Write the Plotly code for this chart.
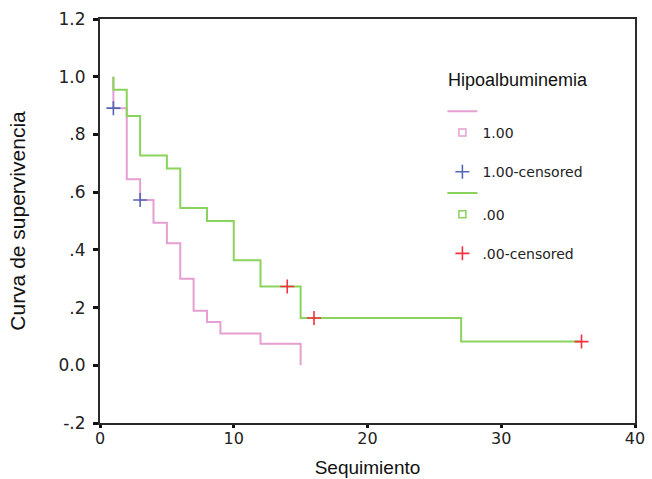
import plotly.graph_objects as go

# Kaplan-Meier data
pink_t = [1, 1, 2, 3, 4, 5, 6, 7, 8, 9, 12, 15]
pink_s = [1.0, 0.891, 0.645, 0.573, 0.494, 0.4225, 0.30, 0.189, 0.150, 0.110, 0.075, 0.0]
pink_cens_t = [1, 3]
pink_cens_s = [0.891, 0.573]

green_t = [1, 1, 2, 3, 5, 6, 8, 10, 12, 15, 27, 36]
green_s = [1.0, 0.955, 0.864, 0.727, 0.682, 0.545, 0.500, 0.364, 0.273, 0.164, 0.082, 0.082]
green_cens_t = [14, 16, 36]
green_cens_s = [0.273, 0.164, 0.082]

y_ticks = [-0.2, 0.0, 0.2, 0.4, 0.6, 0.8, 1.0, 1.2]
y_labels = ["-.2", "0.0", ".2", ".4", ".6", ".8", "1.0", "1.2"]
x_ticks = [0, 10, 20, 30, 40]

PINK = "#e59fd0"
GREEN = "#8ad35c"
BLUE = "#5565b5"
RED = "#f5303f"

fig = go.Figure()

fig.add_trace(go.Scatter(x=pink_t, y=pink_s, mode="lines", line=dict(color=PINK, width=2, shape="hv"),
                         name="", legendgroup="g1"))
fig.add_trace(go.Scatter(x=[None], y=[None], mode="markers", name="1.00", legendgroup="g1",
                         marker=dict(symbol="square-open", size=7, color=PINK, line=dict(width=1.5, color=PINK))))
fig.add_trace(go.Scatter(x=green_t, y=green_s, mode="lines", line=dict(color=GREEN, width=2, shape="hv"),
                         name="", legendgroup="g2"))
fig.add_trace(go.Scatter(x=pink_cens_t, y=pink_cens_s, mode="markers", name="1.00-censored", legendgroup="g2",
                         marker=dict(symbol="cross-thin", size=10, color=BLUE, line=dict(width=1.6, color=BLUE))))
fig.add_trace(go.Scatter(x=[None], y=[None], mode="markers", name=".00", legendgroup="g2",
                         marker=dict(symbol="square-open", size=7, color=GREEN, line=dict(width=1.5, color=GREEN))))
fig.add_trace(go.Scatter(x=green_cens_t, y=green_cens_s, mode="markers", name=".00-censored", legendgroup="g3",
                         marker=dict(symbol="cross-thin", size=10, color=RED, line=dict(width=1.6, color=RED))))

# legend order: pink line, 1.00, 1.00-censored, green line, .00, .00-censored
ranks = [1, 2, 4, 3, 5, 6]
for tr, r in zip(fig.data, ranks):
    tr.legendrank = r

axis_common = dict(showline=True, linecolor="#2a2a2a", linewidth=2, mirror=True,
                   ticks="outside", tickwidth=3, tickcolor="#111",
                   showgrid=False, zeroline=False, automargin=False)

fig.update_layout(
    width=652, height=479,
    margin=dict(l=100, r=17, t=19, b=56),
    paper_bgcolor="white", plot_bgcolor="white",
    xaxis=dict(range=[0, 40], tickvals=x_ticks, ticktext=[str(v) for v in x_ticks],
               ticklen=3, ticklabelstandoff=-3,
               tickfont=dict(family="DejaVu Sans, sans-serif", size=16, color="#222"),
               title=dict(text="Sequimiento", standoff=13,
                          font=dict(family="Liberation Sans, Arial, sans-serif", size=19, color="#111")),
               **axis_common),
    yaxis=dict(range=[-0.2, 1.2], tickvals=y_ticks, ticktext=y_labels, ticklen=5, ticklabelstandoff=4,
               tickfont=dict(family="DejaVu Sans, sans-serif", size=17, color="#222"),
               title=dict(text="Curva de supervivencia", standoff=27,
                          font=dict(family="Liberation Sans, Arial, sans-serif", size=21, color="#111")),
               **axis_common),
    legend=dict(x=0.64, y=0.81, xanchor="left", yanchor="top",
                bgcolor="rgba(0,0,0,0)", traceorder="grouped", tracegroupgap=18,
                font=dict(family="DejaVu Sans, sans-serif", size=14, color="#222")),
    annotations=[dict(text="Hipoalbuminemia", xref="paper", yref="paper", x=0.647, y=0.849,
                      xanchor="left", yanchor="middle", showarrow=False,
                      font=dict(family="Liberation Sans, Arial, sans-serif", size=18, color="#111"))],
)

fig.write_html("out.html", config={"displayModeBar": False},
               post_script="document.body.style.margin='0';")
